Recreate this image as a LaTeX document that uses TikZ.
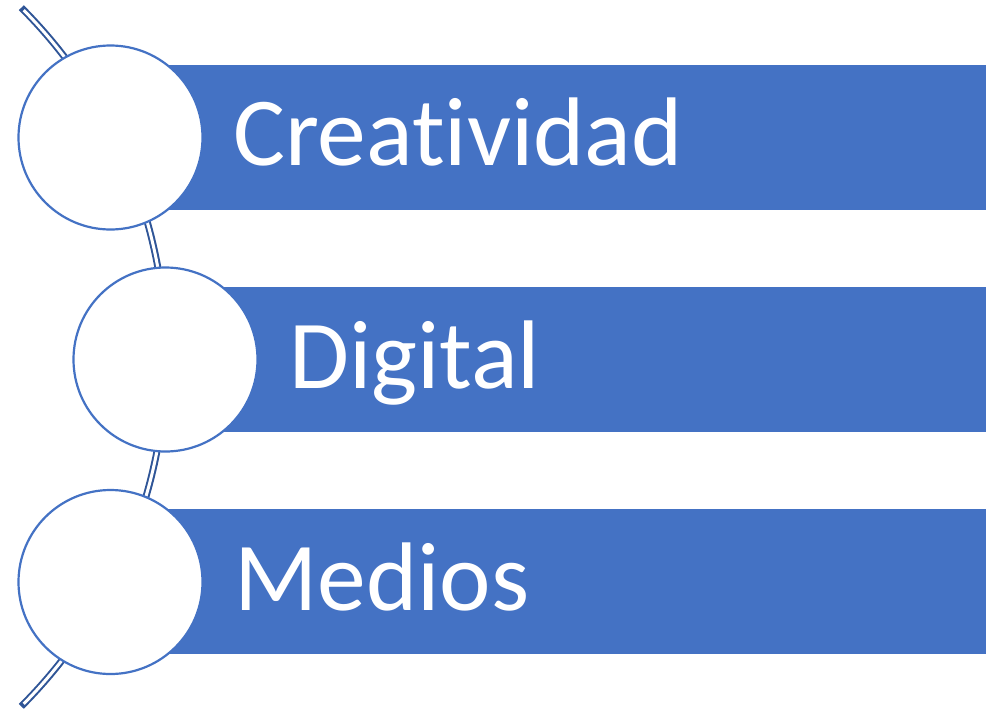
\documentclass[tikz,border=0pt]{standalone}
\usepackage{fontspec}
\usetikzlibrary{calc}
\setmainfont{Carlito}[Ligatures={NoCommon}]
\definecolor{barblue}{HTML}{4472C4}
\definecolor{arcblue}{HTML}{2F5597}
\begin{document}
\begin{tikzpicture}[x=1pt,y=-1pt,
  bar/.style={fill=barblue,draw=none},
  disc/.style={circle,draw=barblue,line width=2.2pt,fill=white,minimum size=184pt,inner sep=0pt},
  label/.style={anchor=base west,inner sep=0pt,text=white,font=\fontsize{97.5}{117}\selectfont}]
\useasboundingbox (0,0) rectangle (986,713);
% background arc (double line)
\coordinate (arccentre) at (-328,357);
\coordinate (arctop) at ($(arccentre)+(-45:494)$);
\draw[arcblue,line width=7pt] (arctop) arc[start angle=-45,end angle=45,radius=494];
\draw[white,line width=3pt] (arccentre) ++(-44.6:494) arc[start angle=-44.6,end angle=44.6,radius=494];
% bars
\fill[bar] (110,65) rectangle (986,210);
\fill[bar] (165,287) rectangle (986,432);
\fill[bar] (110,509) rectangle (986,654);
% circles
\node[disc] (c1) at (110.5,137.5) {};
\node[disc] (c2) at (165.5,359.5) {};
\node[disc] (c3) at (110.5,582) {};
% labels
\node[label] (t1) at (233,165) {Creatividad};
\node[label] (t2) at (289,388) {Digital};
\node[label] (t3) at (234,610) {Medios};
\end{tikzpicture}
\end{document}
